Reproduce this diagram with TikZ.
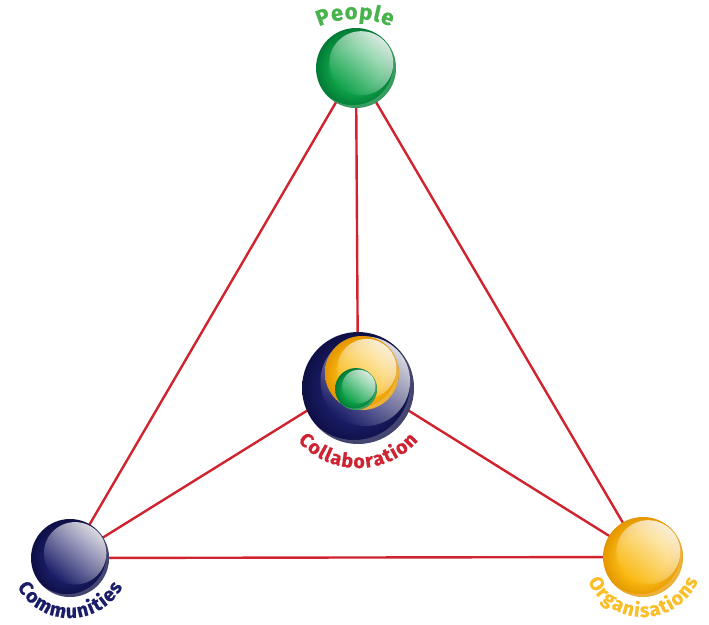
\documentclass[tikz,border=0pt]{standalone}
\usepackage{fontspec}
\newfontfamily\labelfont{Fira Sans}[BoldFeatures={FakeBold=0.7}]
\usetikzlibrary{fadings,decorations.text,backgrounds}

% palette
\definecolor{linkred}{RGB}{208,35,45}
\definecolor{ballgreen}{RGB}{16,163,74}
\definecolor{ballgreenedge}{RGB}{0,122,52}
\definecolor{ballnavy}{RGB}{27,29,104}
\definecolor{ballnavyedge}{RGB}{14,15,68}
\definecolor{ballyellow}{RGB}{250,186,18}
\definecolor{ballyellowedge}{RGB}{228,150,0}
\definecolor{txtgreen}{RGB}{72,178,76}
\definecolor{txtred}{RGB}{206,36,50}
\definecolor{txtnavy}{RGB}{27,29,104}
\definecolor{txtyellow}{RGB}{250,190,40}

% body shadings of the spheres: flat centre, darker rim
\pgfdeclareradialshading{greenball}{\pgfpoint{0bp}{0bp}}{color(0bp)=(ballgreen); color(15bp)=(ballgreen); color(25bp)=(ballgreenedge); color(50bp)=(ballgreenedge)}
\pgfdeclareradialshading{navyball}{\pgfpoint{0bp}{0bp}}{color(0bp)=(ballnavy); color(15bp)=(ballnavy); color(25bp)=(ballnavyedge); color(50bp)=(ballnavyedge)}
\pgfdeclareradialshading{yellowball}{\pgfpoint{0bp}{0bp}}{color(0bp)=(ballyellow); color(15bp)=(ballyellow); color(25bp)=(ballyellowedge); color(50bp)=(ballyellowedge)}

% gloss: bright at the top, gone by the lower half
\tikzfading[name=glossfade, top color=transparent!15, middle color=transparent!90, bottom color=transparent!100]

\newcommand\arcfontbig{\labelfont\bfseries\fontsize{22pt}{22pt}\selectfont}
\newcommand\arcfont{\labelfont\bfseries\fontsize{19.5pt}{19.5pt}\selectfont}

\tikzset{
  ball/.style 2 args={circle, inner sep=0pt, minimum size={2*#2pt}, shade, shading=#1,
    path picture={
      \fill[white, opacity=0.22, even odd rule]
        (path picture bounding box.center) circle[radius={#2pt}]
        ([xshift={-0.07*#2pt}, yshift={0.07*#2pt}]path picture bounding box.center) circle[radius={#2pt}];
      \fill[white, path fading=glossfade, fading angle=-40]
        ([xshift={0.13*#2pt}, yshift={0.12*#2pt}]path picture bounding box.center) circle[radius={0.8*#2pt}];
    }},
  link/.style={draw=linkred, line width=2.4pt},
  % letters set along an arc round a sphere
  arclabel/.style n args={4}{decorate, decoration={text effects along path,
      text={#3}, text align=center,
      text effects/.cd, text along path,
      characters={text=#1, font=#2, inner sep=0pt},
      character widths={font=#2, inner xsep=#4}}},
}

\begin{document}
\begin{tikzpicture}[x=1pt, y=1pt]
  \useasboundingbox (0,0) rectangle (709,624);

  % spheres
  \node[ball={greenball}{40}]  (people) at (356,556) {};
  \node[ball={navyball}{39}]   (com)    at (70,66)   {};
  \node[ball={yellowball}{40}] (org)    at (643,67)  {};
  \node[ball={navyball}{56}]   (collab) at (358,236) {};
  \node[ball={yellowball}{37}] (collabring) at (362,251) {};
  \node[ball={greenball}{21}]  (collabcore) at (356,235) {};
  \coordinate (hub) at (358,245);
  % centre of the flatter arc carrying the top label
  \coordinate (peoplearc) at (355,515);

  % connectors behind the spheres
  \begin{pgfonlayer}{background}
    \draw[link] (people.center) -- (com.center);
    \draw[link] (people.center) -- (org.center);
    \draw[link] (people.center) -- (collab.center);
    \draw[link] (hub) -- (com.center);
    \draw[link] (hub) -- (org.center);
    \draw[link] (com.center) -- (org.center);
  \end{pgfonlayer}

  % labels set on arcs round the spheres
  \path[arclabel={txtgreen}{\arcfontbig}{People}{0.4pt}]
    (peoplearc) ++(180:90pt) arc[start angle=180, end angle=0, radius=90pt];
  \path[arclabel={txtred}{\arcfont}{Collaboration}{0.6pt}]
    (collab.center) ++(180:80pt) arc[start angle=180, end angle=360, radius=80pt];
  \path[arclabel={txtnavy}{\arcfont}{Communities}{0.6pt}]
    (com.center) ++(180:60pt) arc[start angle=180, end angle=360, radius=60pt];
  \path[arclabel={txtyellow}{\arcfont}{Organisations}{0.6pt}]
    (org.center) ++(180:60pt) arc[start angle=180, end angle=360, radius=60pt];
\end{tikzpicture}
\end{document}
